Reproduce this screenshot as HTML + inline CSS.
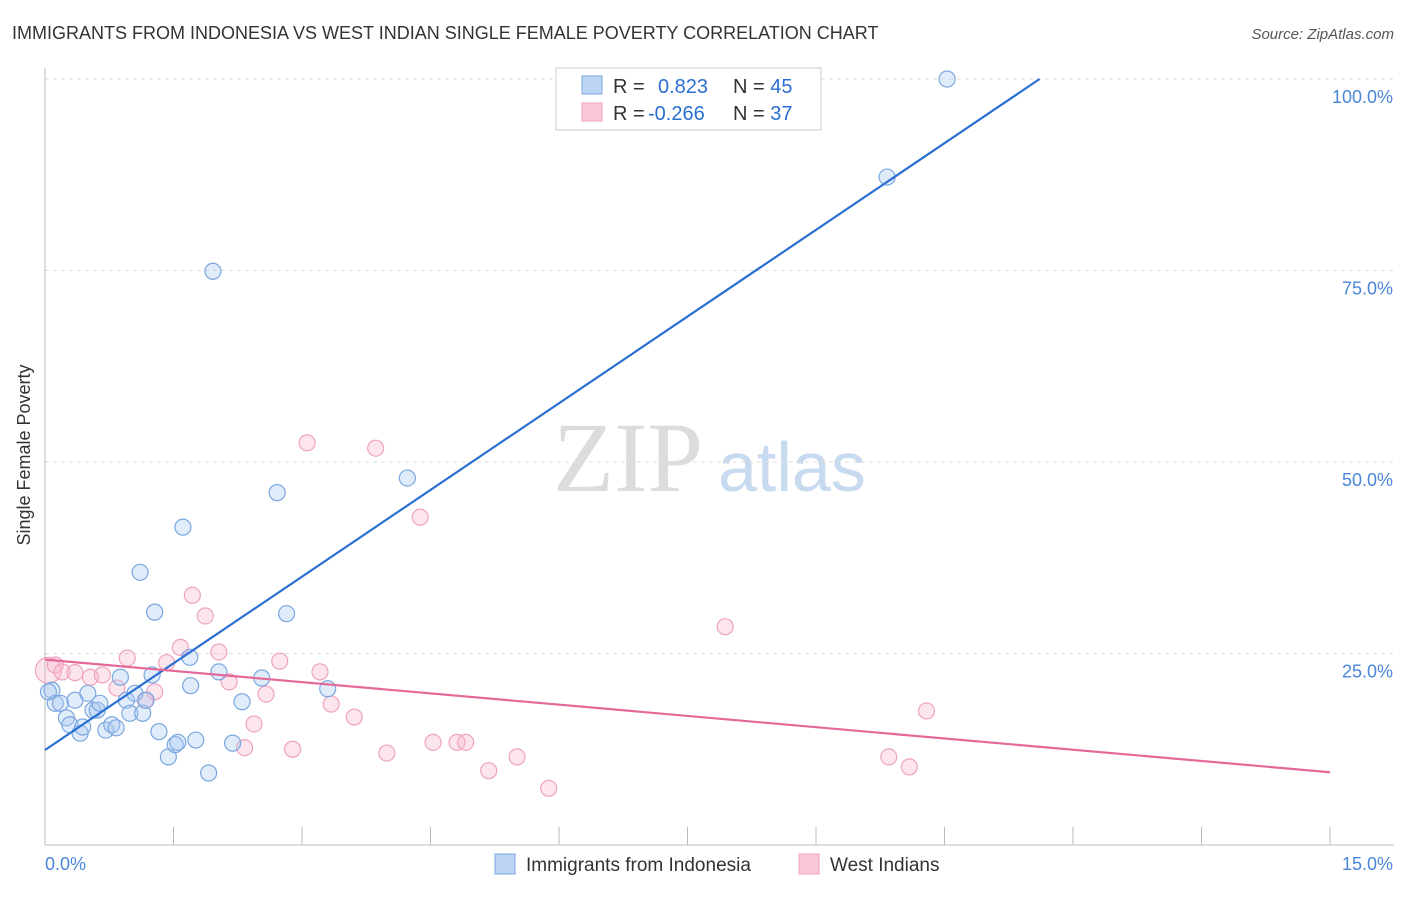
<!DOCTYPE html>
<html><head><meta charset="utf-8"><style>
body{margin:0;background:#fff;font-family:"Liberation Sans",sans-serif}
svg text{font-family:"Liberation Sans",sans-serif}
</style></head><body>
<svg id="c" width="1406" height="892">
<text x="12" y="39" font-size="18" fill="#333">IMMIGRANTS FROM INDONESIA VS WEST INDIAN SINGLE FEMALE POVERTY CORRELATION CHART</text>
<text x="1394" y="39" font-size="15" fill="#555" font-style="italic" text-anchor="end">Source: ZipAtlas.com</text>
<text x="30" y="455" font-size="18" fill="#333" text-anchor="middle" transform="rotate(-90 30 455)">Single Female Poverty</text>
<text x="553" y="491" font-size="100" fill="#dcdcdc" style="font-family:'Liberation Serif',serif">ZIP</text>
<text x="718" y="491" font-size="70" fill="#c8daf0">atlas</text>
<g id="grid"></g><g id="pts"></g><g id="lines"></g>
<g>
<rect x="556" y="68" width="265" height="62" fill="#fff" stroke="#ccc"/>
<rect x="582" y="76" width="20" height="18" fill="#bcd5f5" stroke="#7aa7e0"/>
<rect x="582" y="103" width="20" height="18" fill="#f9c8d8" stroke="#eea3bd"/>
<text x="613" y="93" font-size="20" fill="#333">R = <tspan fill="#2a6fd1" x="658">0.823</tspan><tspan fill="#333" x="733">N = </tspan><tspan fill="#2a6fd1">45</tspan></text>
<text x="613" y="120" font-size="20" fill="#333">R = <tspan fill="#2a6fd1" x="648">-0.266</tspan><tspan fill="#333" x="733">N = </tspan><tspan fill="#2a6fd1">37</tspan></text>
</g>
<g>
<rect x="495" y="854" width="20" height="20" fill="#bcd5f5" stroke="#7aa7e0"/>
<text x="526" y="871" font-size="19" fill="#333">Immigrants from Indonesia</text>
<rect x="799" y="854" width="20" height="20" fill="#f9c8d8" stroke="#eea3bd"/>
<text x="830" y="871" font-size="19" fill="#333">West Indians</text>
</g>
</svg>
<script>
const xTicks=[0,1.5,3,4.5,6,7.5,9,10.5,12,13.5,15];
const yTicks=[25,50,75,100];
const yTickLabels=["25.0%","50.0%","75.0%","100.0%"];
const xEndLabels=["0.0%","15.0%"];
const blueX=[0.08,0.12,0.18,0.25,0.29,0.35,0.41,0.44,0.50,0.56,0.61,0.64,0.71,0.78,0.83,0.88,0.95,0.99,1.05,1.11,1.14,1.18,1.25,1.28,1.33,1.44,1.52,1.55,1.61,1.69,1.70,1.76,1.91,1.96,2.03,2.19,2.30,2.53,2.71,2.82,3.30,4.23,9.83,10.53,0.04];
const blueY=[20.2,18.5,18.5,16.6,15.7,18.9,14.6,15.4,19.8,17.6,17.6,18.5,15.0,15.7,15.3,21.9,18.9,17.2,19.8,35.6,17.2,18.9,22.2,30.4,14.8,11.5,13.1,13.4,41.5,24.5,20.8,13.7,9.4,74.9,22.6,13.3,18.7,21.8,46.0,30.2,20.4,47.9,87.2,100,20.0];
const pinkX=[0.04,0.12,0.20,0.35,0.53,0.67,0.84,0.96,1.17,1.28,1.42,1.58,1.72,1.87,2.03,2.15,2.33,2.44,2.58,2.74,2.89,3.06,3.21,3.34,3.61,3.86,3.99,4.38,4.53,4.81,4.91,5.18,5.51,5.88,7.94,9.85,10.09,10.29];
const pinkY=[22.8,23.5,22.6,22.5,21.9,22.2,20.5,24.4,18.9,20.0,23.8,25.8,32.6,29.9,25.2,21.3,12.7,15.8,19.7,24.0,12.5,52.5,22.6,18.4,16.7,51.8,12.0,42.8,13.4,13.4,13.4,9.7,11.5,7.4,28.5,11.5,10.2,17.5];
const blueTrend=[12.4,7.545];
const pinkTrend=[24.2,-0.98];
const NS="http://www.w3.org/2000/svg";
const X=v=>45+v/15*1285, Y=v=>845-v*7.66;
function mk(tag,attrs,parent){const e=document.createElementNS(NS,tag);for(const k in attrs)e.setAttribute(k,attrs[k]);document.getElementById(parent).appendChild(e);return e;}
yTicks.forEach((t,i)=>{
 let l=mk('line',{x1:45,x2:1394,y1:Y(t),y2:Y(t),stroke:'#ddd','stroke-dasharray':'4,4'},'grid');
 
 
 let tx=mk('text',{x:1393,y:Y(t)+24,'font-size':18,fill:'#4a86d8','text-anchor':'end'},'grid');tx.textContent=yTickLabels[i];
 
 
});
let ax=mk('line',{x1:45,x2:1394,y1:845,y2:845,stroke:'#bbb'},'grid');


let ay=mk('line',{x1:45,x2:45,y1:68,y2:845,stroke:'#bbb'},'grid');


xTicks.forEach(t=>{let l=mk('line',{x1:X(t),x2:X(t),y1:827,y2:845,stroke:'#bbb'},'grid');
 
 });
let xl0=mk('text',{x:45,y:870,'font-size':18,fill:'#4a86d8'},'grid');xl0.textContent=xEndLabels[0];


let xl1=mk('text',{x:1393,y:870,'font-size':18,fill:'#4a86d8','text-anchor':'end'},'grid');xl1.textContent=xEndLabels[1];


pinkX.forEach((x,i)=>{let c=mk('circle',{cx:X(x),cy:Y(pinkY[i]),r:i==0?13:8,fill:'rgba(246,180,202,0.35)',stroke:'#eea3bd','stroke-width':1.2},'pts');
 
 });
blueX.forEach((x,i)=>{let c=mk('circle',{cx:X(x),cy:Y(blueY[i]),r:8,fill:'rgba(170,200,240,0.35)',stroke:'#7aa7e0','stroke-width':1.2},'pts');
 
 });
const bx2=(100-blueTrend[0])/blueTrend[1];
let bl=mk('line',{x1:X(0),y1:Y(blueTrend[0]),x2:X(bx2),y2:Y(100),stroke:'#2a6fd1','stroke-width':2.2},'lines');


let pl=mk('line',{x1:X(0),y1:Y(pinkTrend[0]),x2:X(15),y2:Y(pinkTrend[0]+pinkTrend[1]*15),stroke:'#e4689a','stroke-width':2.2},'lines');


</script>
</body></html>
